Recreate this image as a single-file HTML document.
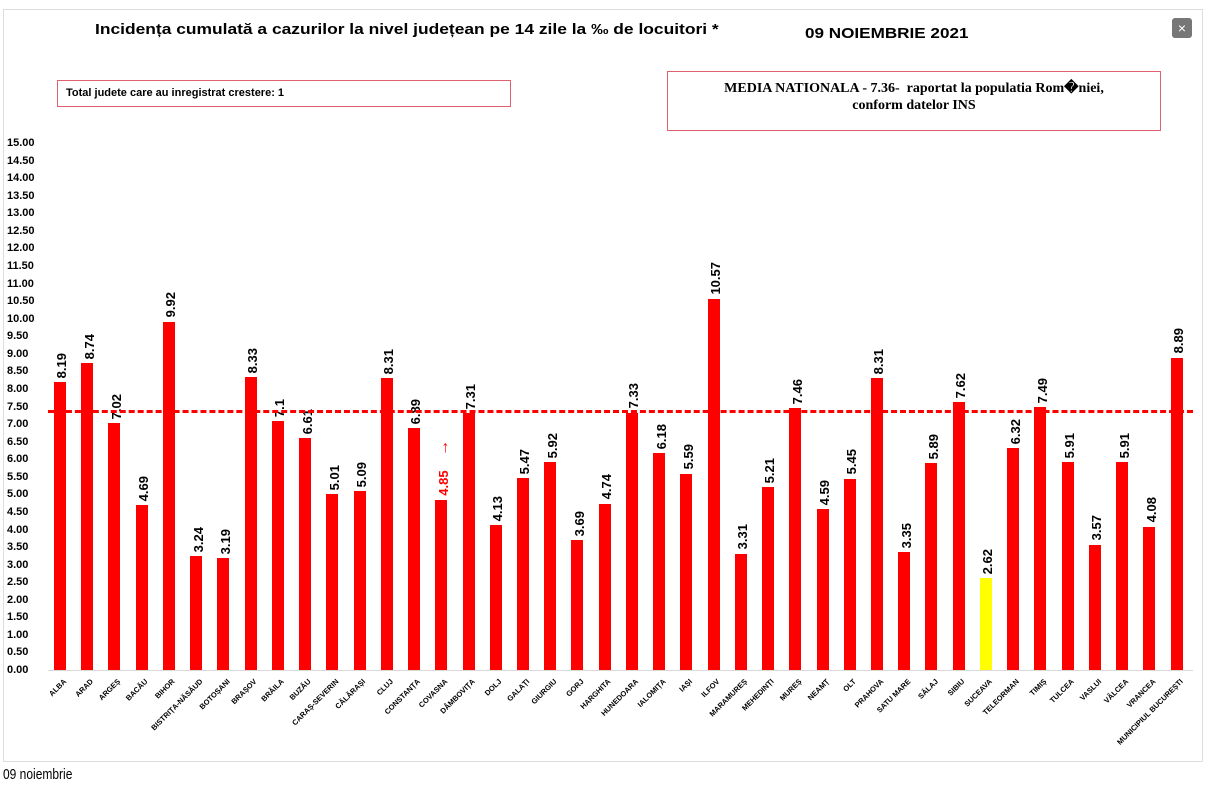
<!DOCTYPE html>
<html><head><meta charset="utf-8">
<style>
body{margin:0;background:#fff;width:1208px;height:795px;overflow:hidden;font-family:"Liberation Sans",sans-serif;position:relative}
.frame{position:absolute;left:3px;top:9px;width:1198px;height:751px;border:1px solid #ddd}
.t{position:absolute;font-weight:bold;white-space:nowrap}
.yl{position:absolute;left:7px;font-size:11px;font-weight:bold;line-height:12px}
.plot{position:absolute;left:46.4px;top:143px;height:527px;display:flex}
.c{position:relative;width:27.24px;height:527px}
.b{position:absolute;bottom:0;left:7.6px;width:12px;height:var(--h);background:#f00}
.v{position:absolute;bottom:calc(var(--h) + 4px);left:9px;writing-mode:vertical-rl;transform:rotate(180deg);font-size:13px;font-weight:bold;white-space:nowrap;line-height:13px}
.n{position:absolute;right:12px;top:534px;font-size:7.5px;font-weight:bold;white-space:nowrap;transform:rotate(-45deg);transform-origin:right top}
</style></head><body>
<div class="frame"></div>
<div class="t" style="left:95px;top:21px;font-size:15px;transform:scaleX(1.16);transform-origin:left top">Incidența cumulată a cazurilor la nivel județean pe 14 zile la ‰ de locuitori *</div>
<div class="t" style="left:805px;top:25px;font-size:15px;transform:scaleX(1.14);transform-origin:left top">09 NOIEMBRIE 2021</div>
<div style="position:absolute;left:1172px;top:18px;width:20px;height:20px;background:#777;border-radius:3px;color:#fff;font-size:14px;text-align:center;line-height:20px">×</div>
<div style="position:absolute;left:57px;top:80px;width:452px;height:25px;border:1px solid #e06070"></div>
<div class="t" style="left:66px;top:87px;font-size:11px">Total judete care au inregistrat crestere: 1</div>
<div style="position:absolute;left:667px;top:71px;width:494px;height:60px;border:1px solid #e06070;font-family:'Liberation Serif',serif;font-weight:bold;font-size:14px;text-align:center;line-height:17px;padding-top:8px;box-sizing:border-box">MEDIA NATIONALA - 7.36-&nbsp; raportat la populatia Rom�niei,<br>conform datelor INS</div>
<div class="yl" style="top:137px">15.00</div><div class="yl" style="top:154.6px">14.50</div><div class="yl" style="top:172.1px">14.00</div><div class="yl" style="top:189.7px">13.50</div><div class="yl" style="top:207.3px">13.00</div><div class="yl" style="top:224.8px">12.50</div><div class="yl" style="top:242.4px">12.00</div><div class="yl" style="top:260px">11.50</div><div class="yl" style="top:277.5px">11.00</div><div class="yl" style="top:295.1px">10.50</div><div class="yl" style="top:312.7px">10.00</div><div class="yl" style="top:330.2px">9.50</div><div class="yl" style="top:347.8px">9.00</div><div class="yl" style="top:365.4px">8.50</div><div class="yl" style="top:382.9px">8.00</div><div class="yl" style="top:400.5px">7.50</div><div class="yl" style="top:418.1px">7.00</div><div class="yl" style="top:435.6px">6.50</div><div class="yl" style="top:453.2px">6.00</div><div class="yl" style="top:470.8px">5.50</div><div class="yl" style="top:488.3px">5.00</div><div class="yl" style="top:505.9px">4.50</div><div class="yl" style="top:523.5px">4.00</div><div class="yl" style="top:541px">3.50</div><div class="yl" style="top:558.6px">3.00</div><div class="yl" style="top:576.2px">2.50</div><div class="yl" style="top:593.7px">2.00</div><div class="yl" style="top:611.3px">1.50</div><div class="yl" style="top:628.9px">1.00</div><div class="yl" style="top:646.4px">0.50</div><div class="yl" style="top:664px">0.00</div>
<div style="position:absolute;left:48px;top:670px;width:1145px;height:1px;background:#d9d9d9"></div>
<div class="plot">
<div class="c" style="--h:287.7px"><div class="b"></div><div class="v">8.19</div><div class="n">ALBA</div></div>
<div class="c" style="--h:307px"><div class="b"></div><div class="v">8.74</div><div class="n">ARAD</div></div>
<div class="c" style="--h:246.6px"><div class="b"></div><div class="v">7.02</div><div class="n">ARGEȘ</div></div>
<div class="c" style="--h:164.8px"><div class="b"></div><div class="v">4.69</div><div class="n">BACĂU</div></div>
<div class="c" style="--h:348.5px"><div class="b"></div><div class="v">9.92</div><div class="n">BIHOR</div></div>
<div class="c" style="--h:113.8px"><div class="b"></div><div class="v">3.24</div><div class="n">BISTRIȚA-NĂSĂUD</div></div>
<div class="c" style="--h:112.1px"><div class="b"></div><div class="v">3.19</div><div class="n">BOTOȘANI</div></div>
<div class="c" style="--h:292.6px"><div class="b"></div><div class="v">8.33</div><div class="n">BRAȘOV</div></div>
<div class="c" style="--h:249.4px"><div class="b"></div><div class="v">7.1</div><div class="n">BRĂILA</div></div>
<div class="c" style="--h:232.2px"><div class="b"></div><div class="v">6.61</div><div class="n">BUZĂU</div></div>
<div class="c" style="--h:176px"><div class="b"></div><div class="v">5.01</div><div class="n">CARAȘ-SEVERIN</div></div>
<div class="c" style="--h:178.8px"><div class="b"></div><div class="v">5.09</div><div class="n">CĂLĂRAȘI</div></div>
<div class="c" style="--h:291.9px"><div class="b"></div><div class="v">8.31</div><div class="n">CLUJ</div></div>
<div class="c" style="--h:242px"><div class="b"></div><div class="v">6.89</div><div class="n">CONSTANȚA</div></div>
<div class="c" style="--h:170.4px"><div class="b"></div><div class="v" style="color:#f00">4.85 &nbsp;&nbsp; <span style="font-size:16px">→</span></div><div class="n">COVASNA</div></div>
<div class="c" style="--h:256.8px"><div class="b"></div><div class="v">7.31</div><div class="n">DÂMBOVIȚA</div></div>
<div class="c" style="--h:145.1px"><div class="b"></div><div class="v">4.13</div><div class="n">DOLJ</div></div>
<div class="c" style="--h:192.2px"><div class="b"></div><div class="v">5.47</div><div class="n">GALAȚI</div></div>
<div class="c" style="--h:208px"><div class="b"></div><div class="v">5.92</div><div class="n">GIURGIU</div></div>
<div class="c" style="--h:129.6px"><div class="b"></div><div class="v">3.69</div><div class="n">GORJ</div></div>
<div class="c" style="--h:166.5px"><div class="b"></div><div class="v">4.74</div><div class="n">HARGHITA</div></div>
<div class="c" style="--h:257.5px"><div class="b"></div><div class="v">7.33</div><div class="n">HUNEDOARA</div></div>
<div class="c" style="--h:217.1px"><div class="b"></div><div class="v">6.18</div><div class="n">IALOMIȚA</div></div>
<div class="c" style="--h:196.4px"><div class="b"></div><div class="v">5.59</div><div class="n">IAȘI</div></div>
<div class="c" style="--h:371.3px"><div class="b"></div><div class="v">10.57</div><div class="n">ILFOV</div></div>
<div class="c" style="--h:116.3px"><div class="b"></div><div class="v">3.31</div><div class="n">MARAMUREȘ</div></div>
<div class="c" style="--h:183px"><div class="b"></div><div class="v">5.21</div><div class="n">MEHEDINȚI</div></div>
<div class="c" style="--h:262.1px"><div class="b"></div><div class="v">7.46</div><div class="n">MUREȘ</div></div>
<div class="c" style="--h:161.2px"><div class="b"></div><div class="v">4.59</div><div class="n">NEAMȚ</div></div>
<div class="c" style="--h:191.5px"><div class="b"></div><div class="v">5.45</div><div class="n">OLT</div></div>
<div class="c" style="--h:291.9px"><div class="b"></div><div class="v">8.31</div><div class="n">PRAHOVA</div></div>
<div class="c" style="--h:117.7px"><div class="b"></div><div class="v">3.35</div><div class="n">SATU MARE</div></div>
<div class="c" style="--h:206.9px"><div class="b"></div><div class="v">5.89</div><div class="n">SĂLAJ</div></div>
<div class="c" style="--h:267.7px"><div class="b"></div><div class="v">7.62</div><div class="n">SIBIU</div></div>
<div class="c" style="--h:92px"><div class="b" style="background:#ffff00"></div><div class="v">2.62</div><div class="n">SUCEAVA</div></div>
<div class="c" style="--h:222px"><div class="b"></div><div class="v">6.32</div><div class="n">TELEORMAN</div></div>
<div class="c" style="--h:263.1px"><div class="b"></div><div class="v">7.49</div><div class="n">TIMIȘ</div></div>
<div class="c" style="--h:207.6px"><div class="b"></div><div class="v">5.91</div><div class="n">TULCEA</div></div>
<div class="c" style="--h:125.4px"><div class="b"></div><div class="v">3.57</div><div class="n">VASLUI</div></div>
<div class="c" style="--h:207.6px"><div class="b"></div><div class="v">5.91</div><div class="n">VÂLCEA</div></div>
<div class="c" style="--h:143.3px"><div class="b"></div><div class="v">4.08</div><div class="n">VRANCEA</div></div>
<div class="c" style="--h:312.3px"><div class="b"></div><div class="v">8.89</div><div class="n">MUNICIPIUL BUCUREȘTI</div></div>
</div>
<div style="position:absolute;left:48px;top:410px;width:1145px;border-top:3px dashed #f00"></div>
<div style="position:absolute;left:3px;top:766px;font-size:15px;transform:scaleX(0.8);transform-origin:left top">09 noiembrie</div>
</body></html>
